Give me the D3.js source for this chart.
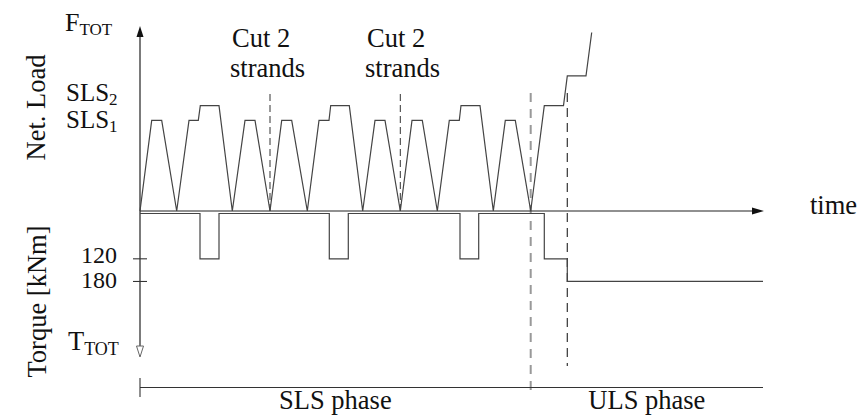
<!DOCTYPE html>
<html><head><meta charset="utf-8">
<script src="https://cdn.jsdelivr.net/npm/d3@7"></script>
<style>
body{margin:0;background:#fff}
text{font-family:"Liberation Serif","Times New Roman",serif;fill:#111}
</style></head>
<body><svg id="c" width="861" height="416"></svg>
<script>
// ---- data (arbitrary time units, normalised net load, torque in kNm) ----
const loadLevels = {SLS1:0.49, SLS2:0.57, L3:0.73, L4:0.965};
const loadTime = [0,11.7,21.7,36.7,49,58.3,60.3,79,92.3,105,115,130,141.7,151.7,167.3,179,189,190.7,209.3,222.7,235,245,260.3,272,282.3,297.3,309.3,319.3,321,340,353.3,365.3,375.3,390.7,404.3,423.5,427.3,446,451.7];
const loadValue = [0,"SLS1","SLS1",0,"SLS1","SLS1","SLS2","SLS2",0,"SLS1","SLS1",0,"SLS1","SLS1",0,"SLS1","SLS1","SLS2","SLS2",0,"SLS1","SLS1",0,"SLS1","SLS1",0,"SLS1","SLS1","SLS2","SLS2",0,"SLS1","SLS1",0,"SLS2","SLS2","L3","L3","L4"];
const torqueTime = [0,60,60,79,79,189.3,189.3,208.3,208.3,320,320,338.7,338.7,404.3,404.3,427.3,427.3,623];
const torqueValue = [0,0,120,120,0,0,120,120,0,0,120,120,0,0,120,120,180,180];
const torqueTicks = [120,180];
const cutTimes = [130,260.3];
const phaseTimes = [390.7,427.3];
const phases = [{name:"SLS phase",from:0,to:390.7},{name:"ULS phase",from:390.7,to:623}];
const T_TOT = 380;

const svg = d3.select("#c");
const x = d3.scaleLinear().domain([0,623]).range([140,763]);
const yL = d3.scaleLinear().domain([0,1]).range([211,26]);
const yT = d3.scaleLinear().domain([0,T_TOT]).range([213.5,357]);

// cut dashed lines
svg.selectAll(".cut").data(cutTimes).join("line")
  .attr("x1",d=>x(d)).attr("x2",d=>x(d)).attr("y1",94).attr("y2",yL(0))
  .attr("stroke","#333").attr("stroke-width",1).attr("stroke-dasharray","7,4");

// phase dashed lines
svg.append("line").attr("x1",x(phaseTimes[0])).attr("x2",x(phaseTimes[0]))
  .attr("y1",93).attr("y2",396).attr("stroke","#999").attr("stroke-width",2).attr("stroke-dasharray","9,7");
svg.append("line").attr("x1",x(phaseTimes[1])).attr("x2",x(phaseTimes[1]))
  .attr("y1",93).attr("y2",366).attr("stroke","#333").attr("stroke-width",1.2).attr("stroke-dasharray","9,6");

// axes
svg.append("line").attr("x1",140).attr("x2",140).attr("y1",34).attr("y2",346).attr("stroke","#222").attr("stroke-width",1.2);
svg.append("path").attr("d","M140,26 L136.5,37 L143.5,37 Z").attr("fill","#111");
svg.append("path").attr("d","M140,357 L136.5,346 L143.5,346 Z").attr("fill","#fff").attr("stroke","#666").attr("stroke-width",1);
svg.append("line").attr("x1",140).attr("x2",754).attr("y1",yL(0)).attr("y2",yL(0)).attr("stroke","#222").attr("stroke-width",1.2);
svg.append("path").attr("d",`M764,${yL(0)} L752,${yL(0)-3.5} L752,${yL(0)+3.5} Z`).attr("fill","#111");

// torque ticks
svg.selectAll(".tt").data(torqueTicks).join("line")
  .attr("x1",133).attr("x2",147).attr("y1",d=>yT(d)).attr("y2",d=>yT(d)).attr("stroke","#333").attr("stroke-width",1.1);
svg.selectAll(".tl").data(torqueTicks).join("text")
  .attr("x",117).attr("y",(d,i)=>yT(d)+(i===0?4:7)).attr("text-anchor","end").attr("font-size",24).text(d=>d);

// load line
const loadPts = loadTime.map((t,i)=>[t, typeof loadValue[i]==="string"?loadLevels[loadValue[i]]:loadValue[i]]);
svg.append("path").datum(loadPts)
  .attr("d",d3.line().x(d=>x(d[0])).y(d=>yL(d[1])))
  .attr("fill","none").attr("stroke","#444").attr("stroke-width",1.2);

// torque line
const torquePts = torqueTime.map((t,i)=>[t,torqueValue[i]]);
svg.append("path").datum(torquePts)
  .attr("d",d3.line().x(d=>x(d[0])).y(d=>yT(d[1])))
  .attr("fill","none").attr("stroke","#444").attr("stroke-width",1.2);

// phase line
svg.append("line").attr("x1",x(0)).attr("x2",x(623)).attr("y1",387.5).attr("y2",387.5).attr("stroke","#333").attr("stroke-width",1.1);
svg.append("line").attr("x1",x(0)).attr("x2",x(0)).attr("y1",378).attr("y2",397).attr("stroke","#333").attr("stroke-width",1.1);
svg.selectAll(".ph").data(phases).join("text")
  .attr("x",d=>(x(d.from)+x(d.to))/2).attr("y",409).attr("text-anchor","middle").attr("font-size",26.5).text(d=>d.name);

// labels
function sub(xp,yp,main,s,fs,ss,dy){
  const t=svg.append("text").attr("x",xp).attr("y",yp).attr("font-size",fs);
  t.append("tspan").text(main);
  t.append("tspan").attr("font-size",ss).attr("dy",dy).text(s);
}
sub(65,31,"F","TOT",26,17,4);
sub(66,101,"SLS","2",25,17,4);
sub(66,128,"SLS","1",25,17,4);
sub(68,350,"T","TOT",26.5,18,5);

[[232,cutTimes[0]],[367,cutTimes[1]]].forEach(([xp])=>{
  svg.append("text").attr("x",xp).attr("y",46.5).attr("font-size",26.5).text("Cut 2");
  svg.append("text").attr("x",xp-2).attr("y",76.5).attr("font-size",26.5).text("strands");
});
svg.append("text").attr("x",810).attr("y",214).attr("font-size",26.5).text("time");
svg.append("text").attr("transform","translate(45,107.5) rotate(-90)").attr("text-anchor","middle").attr("font-size",26.5).text("Net. Load");
svg.append("text").attr("transform","translate(46,301.5) rotate(-90)").attr("text-anchor","middle").attr("font-size",26.5).text("Torque [kNm]");
</script></body></html>
